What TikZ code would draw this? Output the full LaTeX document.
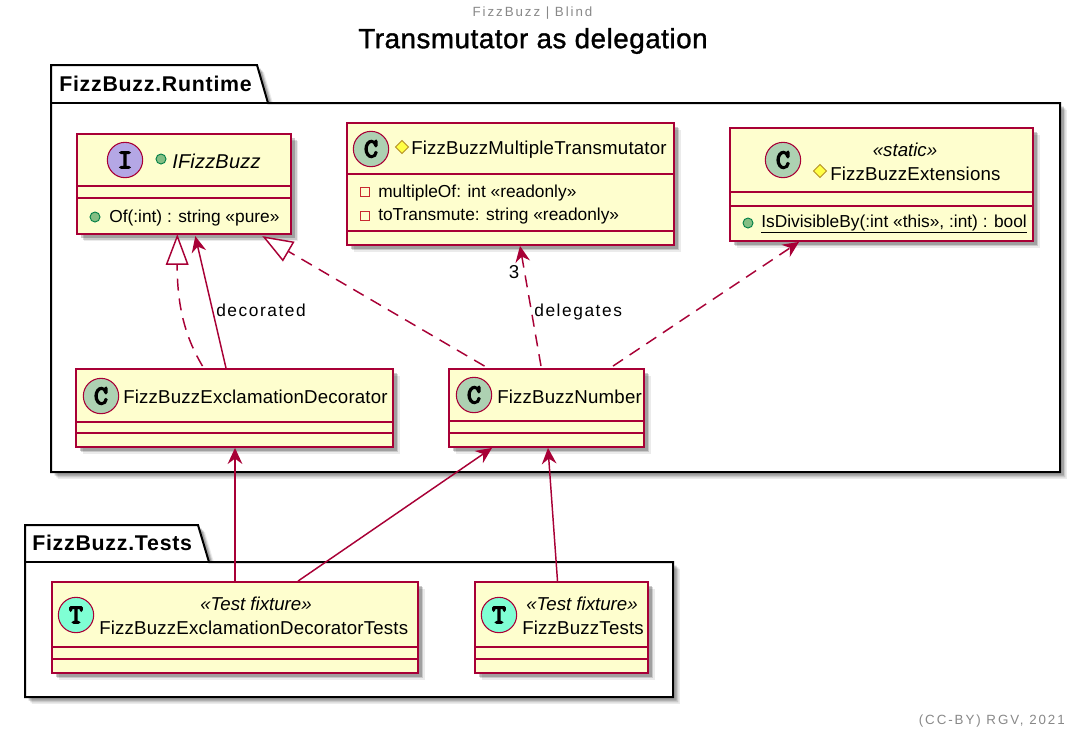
\documentclass[tikz,border=0pt]{standalone}
\usepackage{fontspec}
\usetikzlibrary{arrows.meta,calc,shadows,shapes.geometric}
\setmainfont{Liberation Sans}
\newfontfamily\spaced[LetterSpace=1]{Liberation Sans}
\newfontfamily\wide[LetterSpace=9]{Liberation Sans}
\newfontfamily\notefont[LetterSpace=14.5]{Liberation Sans}
\newfontfamily\pkgfont[LetterSpace=3.5]{Liberation Sans}
\newfontfamily\titlefont[LetterSpace=2,FakeBold=1.2]{Liberation Sans}
\newfontfamily\letterfont[FakeBold=6]{Latin Modern Mono}
\definecolor{boxfill}{HTML}{FEFECE}
\definecolor{boxline}{HTML}{A80036}
\definecolor{classfill}{HTML}{ADD1B2}
\definecolor{ifacefill}{HTML}{B4A7E5}
\definecolor{testfill}{HTML}{7FFFD4}
\definecolor{pubfill}{HTML}{84BE84}
\definecolor{publine}{HTML}{038048}
\definecolor{privline}{HTML}{C82930}
\definecolor{protfill}{HTML}{FFFF44}
\definecolor{protline}{HTML}{B38D22}
\definecolor{notegray}{HTML}{888888}
\tikzset{
  softshadow/.style={
    drop shadow={shadow xshift=5.2pt,shadow yshift=-5.2pt,fill=black,opacity=.08},
    drop shadow={shadow xshift=4pt,shadow yshift=-4pt,fill=black,opacity=.14},
    drop shadow={shadow xshift=2.8pt,shadow yshift=-2.8pt,fill=black,opacity=.2}},
  classbox/.style={draw=boxline,fill=boxfill,line width=1.4pt,inner sep=0pt,softshadow},
  sepline/.style={draw=boxline,line width=1.1pt},
  pkgline/.style={draw=black,line width=1.5pt},
  spot/.style={circle,draw=boxline,line width=.8pt,minimum size=26.5pt,inner sep=0pt,
    font=\letterfont\fontsize{20}{20}\selectfont},
  pubdot/.style={circle,draw=publine,fill=pubfill,line width=.7pt,minimum size=7.5pt,inner sep=0pt},
  privsq/.style={rectangle,draw=privline,line width=.7pt,minimum size=7pt,inner sep=0pt},
  protdia/.style={diamond,draw=protline,fill=protfill,line width=.7pt,minimum size=10pt,inner sep=0pt},
  nametxt/.style={inner sep=0pt,anchor=west,font=\spaced\fontsize{14}{16}\selectfont},
  membertxt/.style={inner sep=0pt,anchor=west,font=\fontsize{13}{15}\selectfont},
  stereotxt/.style={inner sep=0pt,font=\itshape\fontsize{14}{16}\selectfont},
  pkgtxt/.style={inner sep=0pt,anchor=west,font=\pkgfont\bfseries\fontsize{16}{18}\selectfont},
  linktxt/.style={inner sep=0pt,anchor=west,font=\wide\fontsize{13}{15}\selectfont},
  link/.style={draw=boxline,line width=1.1pt},
  uses/.style={link,-{Stealth[length=12pt,width=11pt,inset=4pt]}},
  realizes/.style={link,dashed,dash pattern=on 9pt off 6pt,-{Triangle[open,length=23pt,width=17pt,fill=white]}},
}
\newcommand{\splitbox}[2]{\draw[sepline] (#1.west |- 0,#2) -- (#1.east |- 0,#2);}
\begin{document}
\begin{tikzpicture}[x=.75pt,y=-.75pt]
  \useasboundingbox (0,0) rectangle (1084,736);

  \node[inner sep=0pt,text=notegray,font=\notefont\fontsize{10}{12}\selectfont] (header) at (532.5,13) {FizzBuzz | Blind};
  \node[inner sep=0pt,font=\titlefont\fontsize{20.8}{24}\selectfont] (title) at (533,41) {Transmutator as delegation};
  \node[inner sep=0pt,anchor=east,text=notegray,font=\notefont\fontsize{10}{12}\selectfont] (footer) at (1065,721) {(CC-BY) RGV, 2021};

  \path[pkgline,fill=white,softshadow] (51,65) -- (257,65) -- (268,103) -- (1060,103) -- (1060,472) -- (51,472) -- cycle;
  \draw[pkgline] (51,103) -- (268,103);
  \node[pkgtxt] (runtime) at (59,84) {FizzBuzz.Runtime};

  \path[pkgline,fill=white,softshadow] (25,525) -- (198,525) -- (209,562) -- (673,562) -- (673,697) -- (25,697) -- cycle;
  \draw[pkgline] (25,562) -- (209,562);
  \node[pkgtxt] (tests) at (32,543) {FizzBuzz.Tests};

  \node[classbox,minimum width=160.5pt,minimum height=75pt] (ifizzbuzz) at (184.3,184.2) {};
  \splitbox{ifizzbuzz}{186}
  \splitbox{ifizzbuzz}{198}
  \node[spot,fill=ifacefill] (ifizzbuzzspot) at (125,160) {I};
  \node[pubdot] (ifizzbuzzvis) at (161,159) {};
  \node[nametxt,font=\spaced\itshape\fontsize{15}{17}\selectfont] (ifizzbuzzname) at (172,161) {IFizzBuzz};
  \node[pubdot] (ofvis) at (95,217) {};
  \node[membertxt] (of) at (109,218) {Of(:int) : string «pure»};

  \node[classbox,minimum width=245.25pt,minimum height=91.5pt] (multiple) at (510.5,184) {};
  \splitbox{multiple}{174}
  \splitbox{multiple}{231}
  \node[spot,fill=classfill] (multiplespot) at (371,149) {C};
  \node[protdia] (multiplevis) at (402,147) {};
  \node[nametxt] (multiplename) at (411,150) {FizzBuzzMultipleTransmutator};
  \node[privsq] (multipleofvis) at (365,192) {};
  \node[membertxt] (multipleof) at (378,193) {multipleOf: int «readonly»};
  \node[privsq] (totransmutevis) at (365,216) {};
  \node[membertxt] (totransmute) at (378,216) {toTransmute: string «readonly»};

  \node[classbox,minimum width=227.25pt,minimum height=84.75pt] (extensions) at (881.5,184.5) {};
  \splitbox{extensions}{192}
  \splitbox{extensions}{206}
  \node[spot,fill=classfill] (extensionsspot) at (783,160) {C};
  \node[stereotxt] (extensionsstereo) at (905,150) {«static»};
  \node[protdia] (extensionsvis) at (820,171) {};
  \node[nametxt] (extensionsname) at (830,174) {FizzBuzzExtensions};
  \node[pubdot] (divisiblevis) at (748,223) {};
  \node[membertxt] (divisible) at (761,224) {\underline{IsDivisibleBy(:int «this», :int) : bool}};

  \node[classbox,minimum width=237.75pt,minimum height=58.5pt] (decorator) at (234.5,408) {};
  \splitbox{decorator}{422}
  \splitbox{decorator}{433}
  \node[spot,fill=classfill] (decoratorspot) at (101,396) {C};
  \node[nametxt] (decoratorname) at (123,397) {FizzBuzzExclamationDecorator};

  \node[classbox,minimum width=146.25pt,minimum height=58.5pt] (number) at (546.5,408) {};
  \splitbox{number}{421}
  \splitbox{number}{433}
  \node[spot,fill=classfill] (numberspot) at (474,395) {C};
  \node[nametxt] (numbername) at (497,397) {FizzBuzzNumber};

  \node[classbox,minimum width=274.5pt,minimum height=68.25pt] (decoratortests) at (235,627.5) {};
  \splitbox{decoratortests}{647}
  \splitbox{decoratortests}{659}
  \node[spot,fill=testfill] (decoratortestsspot) at (76,615) {T};
  \node[stereotxt] (decoratortestsstereo) at (256,604) {«Test fixture»};
  \node[nametxt] (decoratortestsname) at (99,628) {FizzBuzzExclamationDecoratorTests};

  \node[classbox,minimum width=129.75pt,minimum height=68.25pt] (numbertests) at (561.5,627.5) {};
  \splitbox{numbertests}{647}
  \splitbox{numbertests}{659}
  \node[spot,fill=testfill] (numbertestsspot) at (499,615) {T};
  \node[stereotxt] (numbertestsstereo) at (582,604) {«Test fixture»};
  \node[nametxt] (numbertestsname) at (522,628) {FizzBuzzTests};

  \draw[realizes] ($(decorator.north)+(-32,-2)$) .. controls (187,340) and (177,310) .. ($(ifizzbuzz.south)+(-7,-1)$);
  \draw[uses] ($(decorator.north)+(-8.5,0)$) -- node[linktxt,pos=.45,xshift=2.5pt,yshift=-1pt] (decoratedlabel) {decorated} ($(ifizzbuzz.south)+(11,1)$);
  \draw[realizes] ($(number.north)+(-62,-2)$) -- ($(ifizzbuzz.south)+(78,1)$);
  \draw[uses,dashed,dash pattern=on 9pt off 6pt] ($(number.north)+(-5.5,-2)$) -- node[linktxt,pos=.48,xshift=2pt,yshift=-3pt] (delegateslabel) {delegates} ($(multiple.south)+(9.5,0)$);
  \node[inner sep=0pt,font=\fontsize{14}{16}\selectfont] (multiplicity) at (514,272) {3};
  \draw[uses,dashed,dash pattern=on 9pt off 6pt] ($(number.north)+(66.5,-2)$) -- ($(extensions.south)+(-82.5,0)$);
  \draw[uses,line width=1.5pt] (decoratortests.north) -- ($(decorator.south)+(.5,0)$);
  \draw[uses] ($(decoratortests.north)+(63,0)$) -- ($(number.south)+(-54.5,0)$);
  \draw[uses] ($(numbertests.north)+(-4,0)$) -- ($(number.south)+(1.5,0)$);
\end{tikzpicture}
\end{document}
